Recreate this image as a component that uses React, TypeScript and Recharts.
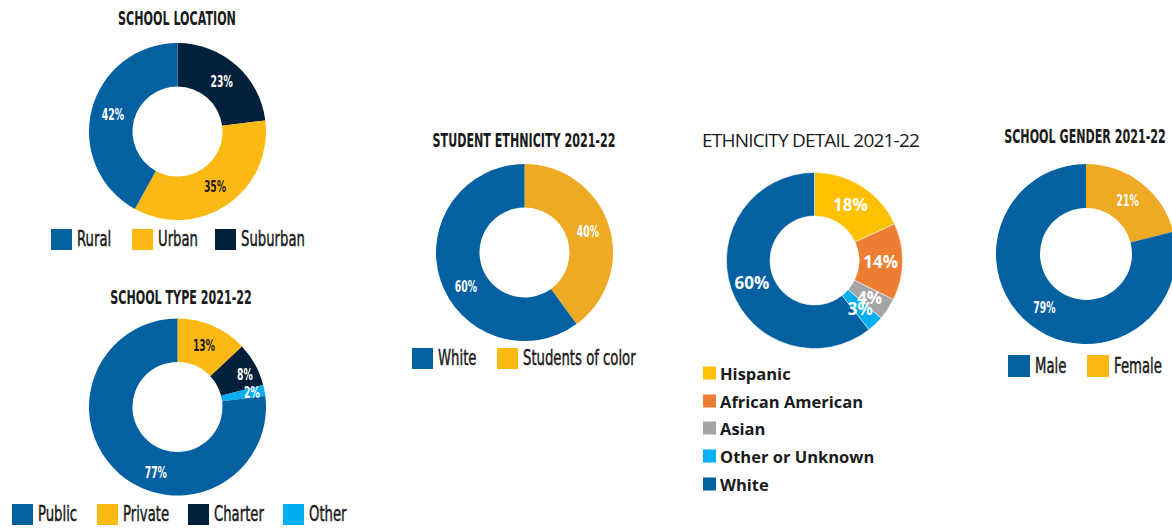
import { PieChart, Pie, Cell } from "recharts";

// ---- data ----
const locationNames = ["Suburban", "Urban", "Rural"];
const locationValues = [23, 35, 42];

const typeNames = ["Private", "Charter", "Other", "Public"];
const typeValues = [13, 8, 2, 77];

const ethnicityNames = ["Students of color", "White"];
const ethnicityValues = [40, 60];

const detailNames = ["Hispanic", "African American", "Asian", "Other or Unknown", "White"];
const detailValues = [18, 14, 4, 3, 60];

const genderNames = ["Female", "Male"];
const genderValues = [21, 79];

// ---- styles ----
const BLUE = "#0361a1";
const YELLOW = "#fdb913";
const GOLD = "#eeaa24";
const NAVY = "#021f3b";
const SKY = "#00aeef";
const INK = "#1b1b1b";
const COND = "'DejaVu Sans', sans-serif"; // squeezed with scaleX below
const OFFICE = "'Open Sans', 'Noto Sans', sans-serif";

const RAD = Math.PI / 180;

const toRows = (names: string[], values: number[]) =>
  names.map((name, i) => ({ name, value: values[i] }));

// nudges for hand-placed labels: [clockwise degrees, extra radius]
type Nudge = [number, number];

function makeLabel(colors: string[], font: string, size: number, squeeze: number, nudges: Nudge[] = []) {
  return (p: any) => {
    const [da, dr] = nudges[p.index] || [0, 0];
    const r = (p.innerRadius + p.outerRadius) / 2 + dr;
    const a = p.midAngle - da;
    const x = p.cx + r * Math.cos(-a * RAD);
    const y = p.cy + r * Math.sin(-a * RAD);
    return (
      <text
        transform={`translate(${x},${y}) scale(${squeeze},1)`}
        x={0}
        y={0}
        fill={colors[p.index]}
        textAnchor="middle"
        dominantBaseline="central"
        style={{ fontFamily: font, fontSize: size, fontWeight: 700 }}
      >
        {`${p.value}%`}
      </text>
    );
  };
}

function Title({ text, x, y }: { text: string; x: number; y: number }) {
  return (
    <div
      style={{
        position: "absolute",
        left: x,
        top: y,
        transform: "translate(-50%, -50%) scaleX(0.57)",
        fontFamily: COND,
        fontWeight: 700,
        fontSize: 19.5,
        color: INK,
        whiteSpace: "nowrap",
        lineHeight: "24px",
      }}
    >
      {text}
    </div>
  );
}

function SquareLegend({ items, xs, y, size = 21 }: { items: { label: string; color: string }[]; xs: number[]; y: number; size?: number }) {
  return (
    <>
      {items.map((it, i) => (
        <div key={it.label} style={{ position: "absolute", left: xs[i], top: y, height: size, whiteSpace: "nowrap" }}>
          <span style={{ position: "absolute", left: 0, top: 0, width: size, height: size, background: it.color }} />
          <span
            style={{
              position: "absolute",
              left: size + 5,
              top: 0,
              transform: "scaleX(0.645)",
              transformOrigin: "left center",
              fontFamily: COND,
              fontSize: 20.5,
              color: INK,
              lineHeight: `${size}px`,
              WebkitTextStroke: "0.5px " + INK,
            }}
          >
            {it.label}
          </span>
        </div>
      ))}
    </>
  );
}

export default function App() {
  const location = toRows(locationNames, locationValues);
  const type = toRows(typeNames, typeValues);
  const ethnicity = toRows(ethnicityNames, ethnicityValues);
  const detail = toRows(detailNames, detailValues);
  const gender = toRows(genderNames, genderValues);

  const locationColors = [NAVY, YELLOW, BLUE];
  const typeColors = [YELLOW, NAVY, SKY, BLUE];
  const ethnicityColors = [GOLD, BLUE];
  const detailColors = ["#ffc000", "#ed7d31", "#a5a5a5", "#00b0f0", "#0461a1"];
  const genderColors = [GOLD, BLUE];

  const pieBase = {
    dataKey: "value",
    startAngle: 90,
    endAngle: -270,
    labelLine: false,
    isAnimationActive: false,
  };

  return (
    <div style={{ position: "absolute", left: 0, top: 0, width: 1172, height: 529, overflow: "hidden", background: "#fff" }}>
      <PieChart
        width={1172}
        height={529}
        margin={{ top: 0, right: 0, bottom: 0, left: 0 }}
        style={{ position: "absolute", left: 0, top: 0 }}
      >
        <Pie
          {...pieBase}
          data={location}
          cx={177.5}
          cy={131.5}
          innerRadius={45}
          outerRadius={88.5}
          stroke="none"
          label={makeLabel(["#fff", INK, "#fff"], COND, 15, 0.62)}
        >
          {location.map((d, i) => (
            <Cell key={d.name} fill={locationColors[i]} />
          ))}
        </Pie>
        <Pie
          {...pieBase}
          data={type}
          cx={177.5}
          cy={407}
          innerRadius={45}
          outerRadius={88.5}
          stroke="none"
          label={makeLabel([INK, "#fff", "#fff", "#fff"], COND, 15, 0.62, [[0, 0], [3, 8], [0, 9], [-23, 2]])}
        >
          {type.map((d, i) => (
            <Cell key={d.name} fill={typeColors[i]} />
          ))}
        </Pie>
        <Pie
          {...pieBase}
          data={ethnicity}
          cx={524.5}
          cy={252.5}
          innerRadius={45}
          outerRadius={88.5}
          stroke="none"
          label={makeLabel(["#fff", "#fff"], COND, 15, 0.62, [[0, 0], [-12, 1]])}
        >
          {ethnicity.map((d, i) => (
            <Cell key={d.name} fill={ethnicityColors[i]} />
          ))}
        </Pie>
        <Pie
          {...pieBase}
          data={detail}
          cx={814.5}
          cy={260.5}
          innerRadius={44.5}
          outerRadius={88}
          stroke="#fff"
          strokeWidth={0.5}
          label={makeLabel(["#fff", "#fff", "#fff", "#fff", "#fff"], OFFICE, 17, 1)}
        >
          {detail.map((d, i) => (
            <Cell key={d.name} fill={detailColors[i]} />
          ))}
        </Pie>
        <Pie
          {...pieBase}
          data={gender}
          cx={1086}
          cy={254}
          innerRadius={46}
          outerRadius={90}
          stroke="none"
          label={makeLabel(["#fff", "#fff"], COND, 15, 0.62)}
        >
          {gender.map((d, i) => (
            <Cell key={d.name} fill={genderColors[i]} />
          ))}
        </Pie>
      </PieChart>

      <Title text="SCHOOL LOCATION" x={177} y={19} />
      <Title text="SCHOOL TYPE 2021-22" x={181} y={298} />
      <Title text="STUDENT ETHNICITY 2021-22" x={524} y={141} />
      <Title text="SCHOOL GENDER 2021-22" x={1085} y={137} />
      <div
        style={{
          position: "absolute",
          left: 702,
          top: 140,
          transform: "translate(0, -50%)",
          fontFamily: OFFICE,
          fontSize: 19,
          letterSpacing: -0.8,
          color: INK,
          whiteSpace: "nowrap",
        }}
      >
        ETHNICITY DETAIL 2021-22
      </div>

      <SquareLegend
        items={[
          { label: "Rural", color: BLUE },
          { label: "Urban", color: YELLOW },
          { label: "Suburban", color: NAVY },
        ]}
        xs={[51, 132, 215]}
        y={229}
      />
      <SquareLegend
        items={[
          { label: "Public", color: BLUE },
          { label: "Private", color: YELLOW },
          { label: "Charter", color: NAVY },
          { label: "Other", color: SKY },
        ]}
        xs={[12, 97, 188, 283]}
        y={504}
      />
      <SquareLegend
        items={[
          { label: "White", color: BLUE },
          { label: "Students of color", color: YELLOW },
        ]}
        xs={[412, 497]}
        y={348}
      />
      <SquareLegend
        items={[
          { label: "Male", color: BLUE },
          { label: "Female", color: YELLOW },
        ]}
        xs={[1008, 1087]}
        y={355}
        size={22}
      />

      {detailNames.map((name, i) => (
        <div
          key={name}
          style={{ position: "absolute", left: 703, top: 373 + i * 27.7, transform: "translate(0, -50%)", display: "flex", alignItems: "center" }}
        >
          <span style={{ width: 13, height: 13, background: detailColors[i], display: "inline-block" }} />
          <span style={{ marginLeft: 4, fontFamily: OFFICE, fontWeight: 700, fontSize: 16.5, color: INK, whiteSpace: "nowrap" }}>
            {name}
          </span>
        </div>
      ))}
    </div>
  );
}
